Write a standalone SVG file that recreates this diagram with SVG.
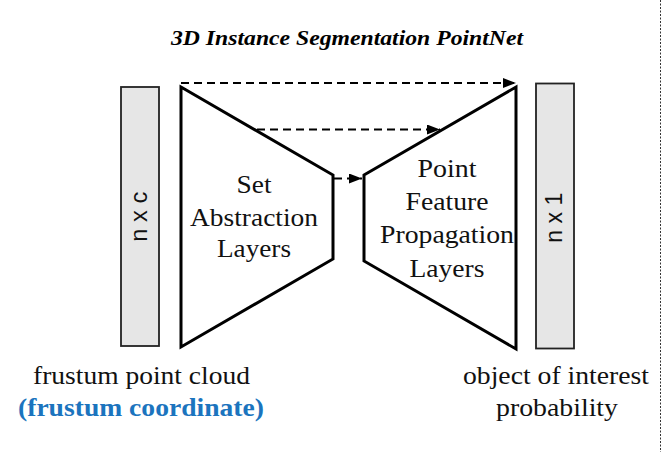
<svg xmlns="http://www.w3.org/2000/svg" width="664" height="459" viewBox="0 0 664 459">
  <defs>
    <style>
      .bar { fill: #e6e6e6; stroke: #222; stroke-width: 1.8; }
      .trap { fill: #fff; stroke: #000; stroke-width: 3; stroke-linejoin: miter; }
      .dash { fill: none; stroke: #000; stroke-width: 2; stroke-dasharray: 8 5; }
      .lbl { font-family: "Liberation Serif", "Times New Roman", serif; font-size: 25px; fill: #111; text-anchor: middle; }
      .side { font-family: "Liberation Sans", Arial, sans-serif; font-size: 21px; fill: #111; text-anchor: middle; }
      .title { font-family: "Liberation Serif", "Times New Roman", serif; font-size: 20px; font-weight: bold; font-style: italic; fill: #000; text-anchor: middle; }
      .blue { font-weight: bold; fill: #1b74be; }
    </style>
    <marker id="ah" markerWidth="14" markerHeight="10" refX="13" refY="5" orient="auto" markerUnits="userSpaceOnUse">
      <path d="M0,0 L13,5 L0,10 Z" fill="#000"/>
    </marker>
  </defs>
  <rect width="664" height="459" fill="#fff"/>

  <text class="title" x="347" y="45" textLength="352" lengthAdjust="spacingAndGlyphs">3D Instance Segmentation PointNet</text>

  <g id="input-bar">
    <rect class="bar" x="121" y="87" width="38" height="259"/>
    <text class="side" transform="translate(146.5,216.7) scale(1.17,1) rotate(-90)" x="0" y="0" textLength="50" lengthAdjust="spacingAndGlyphs">n x c</text>
  </g>

  <g id="set-abstraction">
    <polygon class="trap" points="181,87 333,175 333,259 181,347"/>
    <text class="lbl" x="254" y="193" textLength="35" lengthAdjust="spacingAndGlyphs">Set</text>
    <text class="lbl" x="254" y="225.5" textLength="128" lengthAdjust="spacingAndGlyphs">Abstraction</text>
    <text class="lbl" x="254" y="256.5" textLength="74" lengthAdjust="spacingAndGlyphs">Layers</text>
  </g>

  <g id="feature-propagation">
    <polygon class="trap" points="364,175 516,87 516,349 364,261"/>
    <text class="lbl" x="447" y="176.5" textLength="59" lengthAdjust="spacingAndGlyphs">Point</text>
    <text class="lbl" x="447" y="210" textLength="83" lengthAdjust="spacingAndGlyphs">Feature</text>
    <text class="lbl" x="447" y="243.3" textLength="134" lengthAdjust="spacingAndGlyphs">Propagation</text>
    <text class="lbl" x="447" y="276.7" textLength="75" lengthAdjust="spacingAndGlyphs">Layers</text>
  </g>

  <g id="output-bar">
    <rect class="bar" x="536" y="83.5" width="38" height="265"/>
    <text class="side" transform="translate(561.7,217.7) scale(1.17,1) rotate(-90)" x="0" y="0" textLength="50" lengthAdjust="spacingAndGlyphs">n x 1</text>
  </g>

  <g id="connectors">
    <line class="dash" x1="181" y1="83" x2="516" y2="83" marker-end="url(#ah)"/>
    <line class="dash" x1="257" y1="129.5" x2="440" y2="129.5" marker-end="url(#ah)"/>
    <line class="dash" x1="334" y1="178.5" x2="362" y2="178.5" marker-end="url(#ah)"/>
  </g>

  <g id="input-label">
    <text class="lbl" x="141.5" y="384" textLength="217" lengthAdjust="spacingAndGlyphs">frustum point cloud</text>
    <text class="lbl blue" x="141" y="416" textLength="246" lengthAdjust="spacingAndGlyphs">(frustum coordinate)</text>
  </g>

  <g id="output-label">
    <text class="lbl" x="556" y="384" textLength="186" lengthAdjust="spacingAndGlyphs">object of interest</text>
    <text class="lbl" x="557" y="416" textLength="122" lengthAdjust="spacingAndGlyphs">probability</text>
  </g>

  <line x1="660.5" y1="0" x2="660.5" y2="452" stroke="#333" stroke-width="1" stroke-dasharray="2 1.5"/>
</svg>
